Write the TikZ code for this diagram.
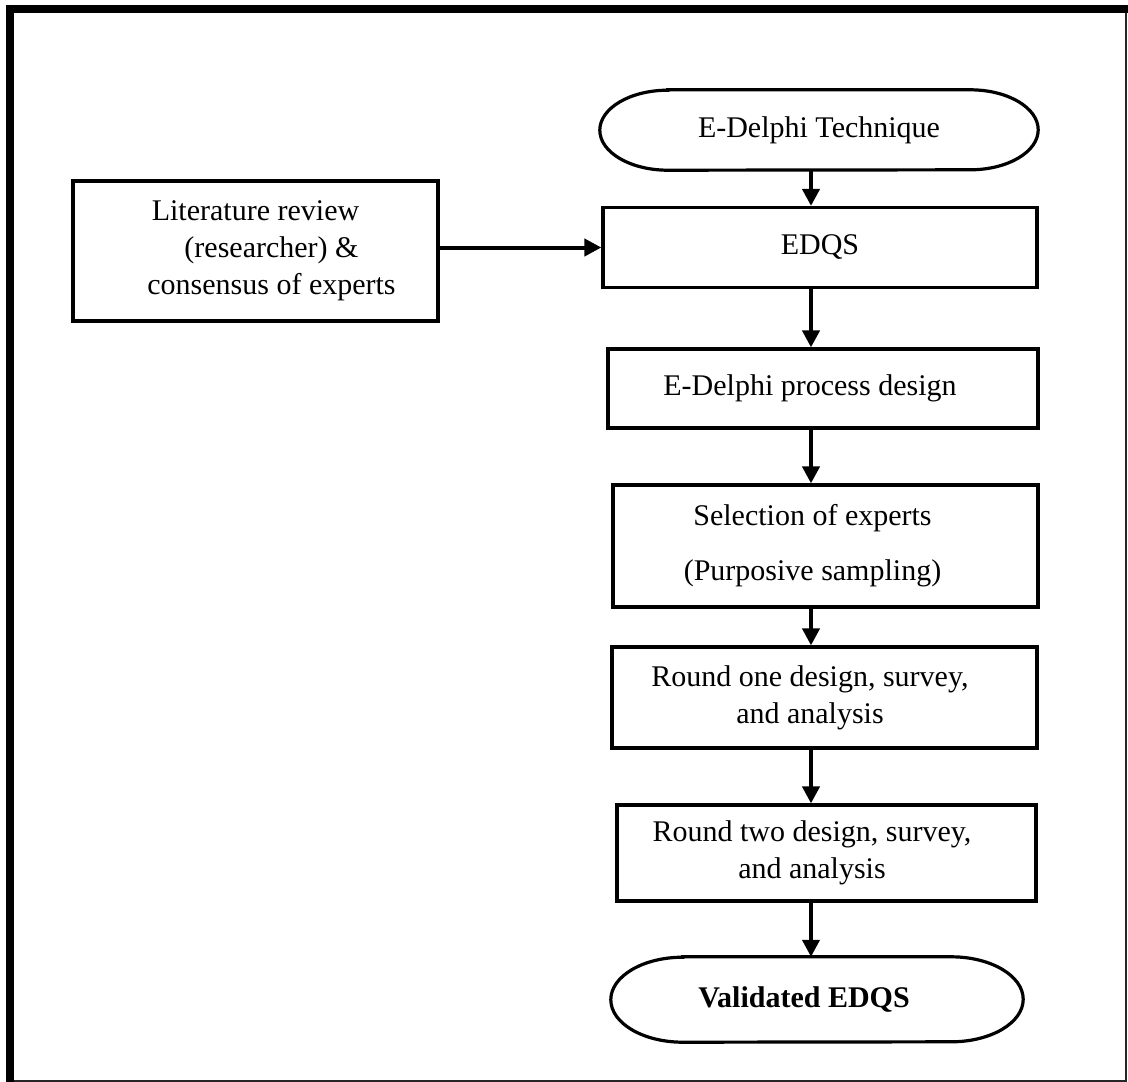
\documentclass[tikz,border=0pt]{standalone}
\usepackage{fontspec}
\setmainfont{Liberation Serif}
\usetikzlibrary{arrows.meta,calc}

\tikzset{
  boxnode/.style={draw, line width=3.2pt, inner sep=0pt, align=center,
    font=\fontsize{30}{37}\selectfont},
  capnode/.style={inner sep=0pt, align=center,
    font=\fontsize{30}{37}\selectfont},
  capline/.style={line width=3.2pt},
  flowarrow/.style={line width=4pt,
    -{Triangle[length=17pt,width=17pt]}},
}

% trailing space nudges a centred line a little to the left
\newcommand{\lnudge}{\hspace*{26pt}}

\begin{document}
\begin{tikzpicture}[x=1pt,y=1pt]
  \useasboundingbox (0,0) rectangle (1128,-1082);

  % page frame: heavy rule on top and left, light rule on right and bottom
  \fill[black] (6,-5) rectangle (1128,-13);
  \fill[black] (6,-5) rectangle (14,-1082);
  \draw[line width=2pt, black!85] (1126,-13) -- (1126,-1081) -- (14,-1081);

  % column of the main flow
  \coordinate (colx) at (811,0);

  % terminal: start
  \node[capnode, minimum width=438pt, minimum height=80pt] (T) at (819,-130)
    {E-Delphi Technique};
  \draw[capline]
    ($(T.north west)+(68,0)$) -- ($(T.north east)+(-68,0)$)
    arc[start angle=90, end angle=-90, x radius=68, y radius=40]
    -- ($(T.south west)+(68,0)$)
    arc[start angle=270, end angle=90, x radius=68, y radius=40] -- cycle;

  % input source
  \node[boxnode, minimum width=365pt, minimum height=140pt] (L) at (255.5,-251)
    {Literature review\\ \hspace*{32pt}(researcher) \&\\ \hspace*{32pt}consensus of experts};

  % process steps
  \node[boxnode, minimum width=434pt, minimum height=80pt] (E) at (820,-247.5)
    {\raisebox{6pt}{EDQS}};
  \node[boxnode, minimum width=430pt, minimum height=79pt] (P) at (823,-388.5)
    {E-Delphi process design\lnudge};
  \node[boxnode, minimum width=425pt, minimum height=122pt] (S) at (825.5,-546)
    {Selection of experts\lnudge\\[18pt] (Purposive sampling)\lnudge};
  \node[boxnode, minimum width=425pt, minimum height=101pt] (R1) at (824.5,-697.5)
    {Round one design, survey,\hspace*{29pt}\\ and analysis\hspace*{29pt}};
  \node[boxnode, minimum width=419pt, minimum height=96pt] (R2) at (826.5,-853)
    {Round two design, survey,\hspace*{29pt}\\ and analysis\hspace*{29pt}};

  % terminal: end
  \node[capnode, minimum width=412pt, minimum height=85pt] (V) at (817,-999.5)
    {\bfseries Validated EDQS\lnudge};
  \draw[capline]
    ($(V.north west)+(72,0)$) -- ($(V.north east)+(-72,0)$)
    arc[start angle=90, end angle=-90, x radius=72, y radius=42.5]
    -- ($(V.south west)+(72,0)$)
    arc[start angle=270, end angle=90, x radius=72, y radius=42.5] -- cycle;

  % connectors
  \draw[flowarrow] (L.east |- E.west) -- (E.west);
  \draw[flowarrow] (T.south -| colx) -- (E.north -| colx);
  \draw[flowarrow] (E.south -| colx) -- (P.north -| colx);
  \draw[flowarrow] (P.south -| colx) -- (S.north -| colx);
  \draw[flowarrow] (S.south -| colx) -- (R1.north -| colx);
  \draw[flowarrow] (R1.south -| colx) -- (R2.north -| colx);
  \draw[flowarrow] (R2.south -| colx) -- (V.north -| colx);
\end{tikzpicture}
\end{document}
